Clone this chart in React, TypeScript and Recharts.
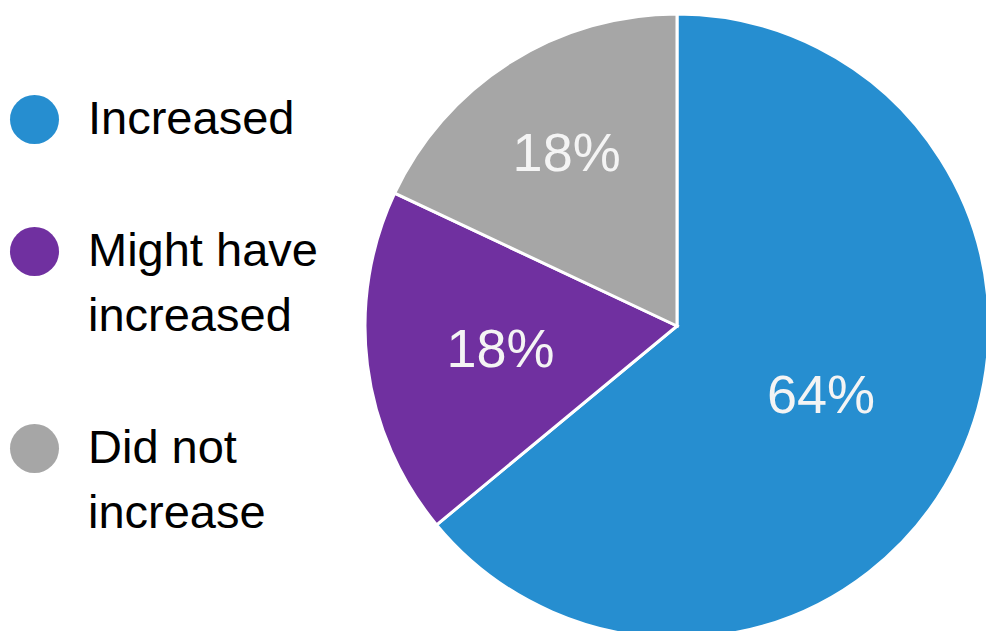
import React from 'react';
import { PieChart, Pie, Cell } from 'recharts';

const categories = ['Increased', 'Might have increased', 'Did not increase'];
const shares = [64, 18, 18];
const colors = ['#268ed0', '#7030a0', '#a6a6a6'];

// how far out (fraction of the radius) each slice label sits
const labelRadius = [0.51, 0.57, 0.66];

const data = categories.map((name, i) => ({ name, value: shares[i] }));

const RADIAN = Math.PI / 180;
const FONT = "'Liberation Sans', Arial, sans-serif";

const renderLabel = (props: any) => {
    const { cx, cy, midAngle, outerRadius, percent, index } = props;
    const r = outerRadius * labelRadius[index];
    const x = cx + r * Math.cos(-midAngle * RADIAN);
    const y = cy + r * Math.sin(-midAngle * RADIAN);
    return (
        <text
            x={x}
            y={y}
            fill="#f4f4f4"
            fontSize={54}
            fontFamily={FONT}
            textAnchor="middle"
            dominantBaseline="central"
        >
            {`${Math.round(percent * 100)}%`}
        </text>
    );
};

const SideLegend = () => (
    <div style={{ position: 'absolute', left: 0, top: 85, width: 340 }}>
        {categories.map((name, i) => (
            <div key={name} style={{ position: 'relative', marginBottom: 67, paddingLeft: 88, width: 245 }}>
                <span
                    style={{
                        position: 'absolute',
                        left: 10,
                        top: 10,
                        width: 49,
                        height: 49,
                        borderRadius: '50%',
                        background: colors[i],
                    }}
                />
                <div style={{ fontFamily: FONT, fontSize: 47, lineHeight: '65px', color: '#000000' }}>
                    {name}
                </div>
            </div>
        ))}
    </div>
);

export default function App() {
    return (
        <div style={{ position: 'absolute', left: 0, top: 0, width: 986, height: 631, background: '#ffffff' }}>
            <PieChart width={986} height={631} margin={{ top: 0, right: 0, bottom: 0, left: 0 }}>
                <Pie
                    data={data}
                    dataKey="value"
                    nameKey="name"
                    cx={677}
                    cy={326}
                    outerRadius={312}
                    startAngle={90}
                    endAngle={-270}
                    stroke="#ffffff"
                    strokeWidth={3}
                    label={renderLabel}
                    labelLine={false}
                    isAnimationActive={false}
                >
                    {data.map((d, i) => (
                        <Cell key={d.name} fill={colors[i]} />
                    ))}
                </Pie>
            </PieChart>
            <SideLegend />
        </div>
    );
}
